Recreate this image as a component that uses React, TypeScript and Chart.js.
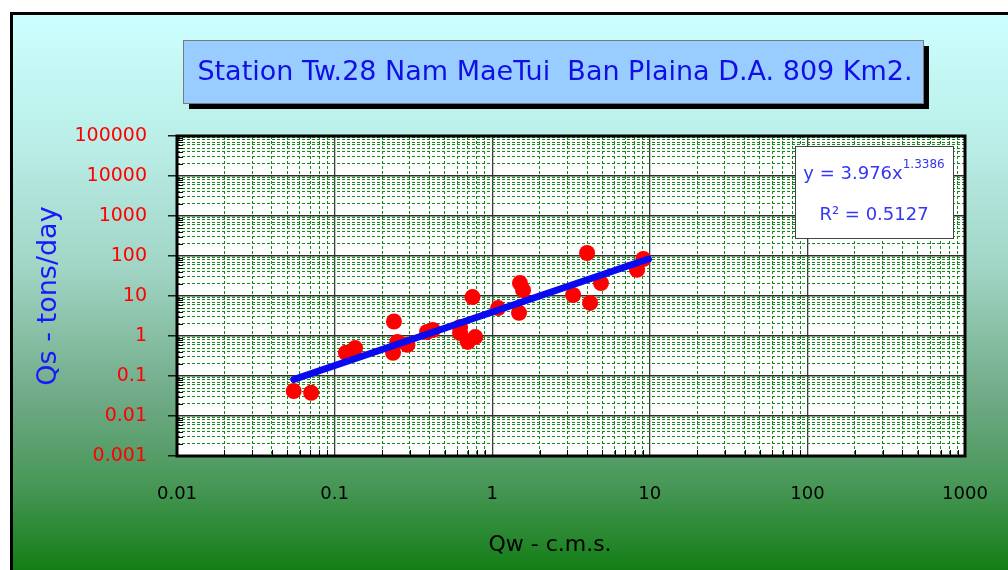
import React, { useEffect, useRef } from 'react';
import { Chart, registerables } from 'chart.js';

Chart.register(...registerables);

// ---------------- data ----------------
const TITLE = 'Station Tw.28 Nam MaeTui  Ban Plaina D.A. 809 Km2.';
const X_TITLE = 'Qw - c.m.s.';
const Y_TITLE = 'Qs - tons/day';

const X_TICK_LABELS = ['0.01', '0.1', '1', '10', '100', '1000'];
const Y_TICK_LABELS = ['0.001', '0.01', '0.1', '1', '10', '100', '1000', '10000', '100000'];

// observed discharge (c.m.s.) and sediment load (tons/day)
const QW = [0.055, 0.071, 0.118, 0.135, 0.238, 0.235, 0.25, 0.29, 0.386, 0.42, 0.625, 0.625, 0.70, 0.78, 0.75, 1.09, 1.50, 1.57, 1.48, 3.26, 4.00, 4.18, 4.90, 8.3, 9.1];
const QS = [0.042, 0.038, 0.38, 0.50, 2.3, 0.38, 0.71, 0.60, 1.26, 1.41, 1.68, 1.19, 0.71, 0.94, 9.4, 5.0, 21, 14, 3.8, 10.6, 119, 6.7, 21, 45, 84];

// power trend line end points (as drawn)
const TREND_QW = [0.055, 9.8];
const TREND_QS = [0.082, 84];

const EQ_COEF = '3.976';
const EQ_EXP = '1.3386';
const R2_VALUE = '0.5127';

// ---------------- helpers ----------------
function buildLogTicks(labels: string[]) {
  const vals = labels.map(Number);
  const ticks: { value: number; major: boolean }[] = [];
  for (let i = 0; i < vals.length; i++) {
    ticks.push({ value: vals[i], major: true });
    if (i < vals.length - 1) {
      for (let k = 2; k <= 9; k++) {
        ticks.push({ value: Number((k * vals[i]).toPrecision(12)), major: false });
      }
    }
  }
  return ticks;
}

function labelFor(labels: string[]) {
  return (value: number | string, index: number, ticks: any[]) => {
    const t = ticks[index];
    if (!t || !t.major) return '';
    const found = labels.find((l) => Math.abs(Number(l) - Number(value)) < 1e-12 * Math.max(1, Number(l)));
    return found ?? '';
  };
}

const isMajor = (c: any) => !!(c && c.tick && c.tick.major);

const FONT = "'DejaVu Sans', 'Open Sans', sans-serif";

const decorPlugin = {
  id: 'decor',
  beforeDraw(chart: any) {
    const { ctx, width, height, chartArea } = chart;
    ctx.save();
    ctx.fillStyle = '#ffffff';
    ctx.fillRect(0, 0, width, height);
    const g = ctx.createLinearGradient(0, 15, 0, height);
    g.addColorStop(0, '#ccffff');
    g.addColorStop(0.24, '#b9ede6');
    g.addColorStop(0.46, '#a0d4c4');
    g.addColorStop(0.69, '#6faa86');
    g.addColorStop(0.84, '#4a985a');
    g.addColorStop(1, '#147e16');
    ctx.fillStyle = g;
    ctx.fillRect(10, 12, width - 10, height - 12);
    ctx.fillStyle = '#000000';
    ctx.fillRect(10, 12, width - 10, 3);
    ctx.fillRect(10, 12, 3, height - 12);
    // plot area
    ctx.fillStyle = '#ffffff';
    ctx.fillRect(chartArea.left, chartArea.top, chartArea.right - chartArea.left, chartArea.bottom - chartArea.top);
    ctx.restore();
  },
  beforeDatasetsDraw(chart: any) {
    const { ctx, chartArea } = chart;
    const xs = chart.scales.x;
    const ys = chart.scales.y;
    ctx.save();
    ctx.strokeStyle = '#000000';
    ctx.lineWidth = 1;
    ctx.beginPath();
    for (const t of ys.ticks) {
      if (t.major) continue;
      const py = Math.round(ys.getPixelForValue(t.value)) + 0.5;
      ctx.moveTo(chartArea.left, py);
      ctx.lineTo(chartArea.left + 6, py);
    }
    for (const t of xs.ticks) {
      if (t.major) continue;
      const px = Math.round(xs.getPixelForValue(t.value)) + 0.5;
      ctx.moveTo(px, chartArea.bottom);
      ctx.lineTo(px, chartArea.bottom - 6);
    }
    ctx.stroke();
    ctx.lineWidth = 3;
    ctx.strokeRect(chartArea.left, chartArea.top, chartArea.right - chartArea.left, chartArea.bottom - chartArea.top);
    ctx.restore();
  },
  afterDraw(chart: any) {
    const { ctx } = chart;
    ctx.save();
    // title box
    const bx = 183, by = 40, bw = 740, bh = 63;
    ctx.fillStyle = '#000000';
    ctx.fillRect(bx + 6, by + 6, bw, bh);
    ctx.fillStyle = '#99ccff';
    ctx.fillRect(bx, by, bw, bh);
    ctx.strokeStyle = '#7a7a7a';
    ctx.lineWidth = 1;
    ctx.strokeRect(bx + 0.5, by + 0.5, bw, bh);
    ctx.fillStyle = '#1010e6';
    ctx.font = `27px ${FONT}`;
    ctx.textAlign = 'center';
    ctx.textBaseline = 'middle';
    ctx.fillText(TITLE, 555, by + bh / 2 + 1);

    // x axis title
    ctx.fillStyle = '#000000';
    ctx.font = `22px ${FONT}`;
    ctx.fillText(X_TITLE, 550, 545);

    // equation box
    const ex = 795, ey = 146, ew = 158, eh = 92;
    ctx.fillStyle = '#ffffff';
    ctx.fillRect(ex, ey, ew, eh);
    ctx.strokeStyle = '#444444';
    ctx.strokeRect(ex + 0.5, ey + 0.5, ew, eh);
    ctx.fillStyle = '#3535f5';
    ctx.textAlign = 'left';
    ctx.textBaseline = 'alphabetic';
    ctx.font = `18px ${FONT}`;
    const main = `y = ${EQ_COEF}x`;
    const mw = ctx.measureText(main).width;
    ctx.font = `12px ${FONT}`;
    const sw = ctx.measureText(EQ_EXP).width;
    const sx = ex + (ew - mw - sw) / 2;
    ctx.font = `18px ${FONT}`;
    ctx.fillText(main, sx, 179);
    ctx.font = `12px ${FONT}`;
    ctx.fillText(EQ_EXP, sx + mw, 168);
    ctx.font = `18px ${FONT}`;
    ctx.textAlign = 'center';
    ctx.fillText(`R\u00B2 = ${R2_VALUE}`, ex + ew / 2, 220);
    ctx.restore();
  },
};

export default function App() {
  const canvasRef = useRef<HTMLCanvasElement | null>(null);

  useEffect(() => {
    const canvas = canvasRef.current;
    if (!canvas) return;
    const points = QW.map((x, i) => ({ x, y: QS[i] }));
    const trend = TREND_QW.map((x, i) => ({ x, y: TREND_QS[i] }));

    const chart = new Chart(canvas, {
      type: 'scatter',
      data: {
        datasets: [
          {
            type: 'line',
            label: 'Power trend',
            data: trend,
            borderColor: '#0a0af0',
            backgroundColor: '#0a0af0',
            borderWidth: 7,
            borderCapStyle: 'round',
            pointRadius: 0,
            fill: false,
          } as any,
          {
            type: 'scatter',
            label: 'Qs',
            data: points,
            backgroundColor: '#ff0000',
            borderColor: '#ff0000',
            borderWidth: 0,
            pointRadius: 8,
          },
        ],
      },
      options: {
        responsive: false,
        animation: false,
        devicePixelRatio: 1,
        layout: { padding: { left: 0, top: 136, right: 43, bottom: 0 } },
        plugins: { legend: { display: false }, tooltip: { enabled: false }, title: { display: false } },
        scales: {
          x: {
            type: 'logarithmic',
            position: 'bottom',
            min: Number(X_TICK_LABELS[0]),
            max: Number(X_TICK_LABELS[X_TICK_LABELS.length - 1]),
            afterBuildTicks: (scale: any) => {
              scale.ticks = buildLogTicks(X_TICK_LABELS);
            },
            afterFit: (scale: any) => {
              scale.height = 114;
              scale.paddingLeft = 0;
              scale.paddingRight = 0;
            },
            ticks: {
              autoSkip: false,
              maxRotation: 0,
              minRotation: 0,
              padding: 28,
              color: '#000000',
              font: { family: FONT, size: 18 },
              callback: labelFor(X_TICK_LABELS) as any,
            },
            grid: {
              display: true,
              drawTicks: false,
              color: (c: any) => (isMajor(c) ? '#3c3c3c' : '#17891c'),
              lineWidth: (c: any) => (isMajor(c) ? 1.3 : 1),
            },
            border: {
              display: false,
              dash: (c: any) => (c && c.tick && !c.tick.major ? [3, 2] : []),
            } as any,
            title: { display: false },
          },
          y: {
            type: 'logarithmic',
            position: 'left',
            min: Number(Y_TICK_LABELS[0]),
            max: Number(Y_TICK_LABELS[Y_TICK_LABELS.length - 1]),
            afterBuildTicks: (scale: any) => {
              scale.ticks = buildLogTicks(Y_TICK_LABELS);
            },
            afterFit: (scale: any) => {
              scale.width = 177;
              scale.paddingTop = 0;
              scale.paddingBottom = 0;
            },
            ticks: {
              autoSkip: false,
              padding: 21,
              color: '#ff0000',
              font: { family: FONT, size: 19 },
              callback: labelFor(Y_TICK_LABELS) as any,
            },
            grid: {
              display: true,
              drawTicks: true,
              tickLength: 9,
              tickWidth: 1.3,
              tickColor: (c: any) => (isMajor(c) ? '#000000' : 'rgba(0,0,0,0)'),
              color: (c: any) => (isMajor(c) ? '#2e2e2e' : '#17891c'),
              lineWidth: (c: any) => (isMajor(c) ? 1.6 : 1),
            },
            border: {
              display: false,
              dash: (c: any) => (c && c.tick && !c.tick.major ? [3, 2] : []),
            } as any,
            title: {
              display: true,
              text: Y_TITLE,
              color: '#1818ff',
              font: { family: FONT, size: 27 },
              padding: { top: 33, bottom: 0 },
            },
          },
        },
      },
      plugins: [decorPlugin],
    });
    return () => chart.destroy();
  }, []);

  return (
    <div style={{ position: 'fixed', left: 0, top: 0, width: 1008, height: 570, overflow: 'hidden' }}>
      <canvas ref={canvasRef} width={1008} height={570} style={{ display: 'block', width: 1008, height: 570 }} />
    </div>
  );
}
